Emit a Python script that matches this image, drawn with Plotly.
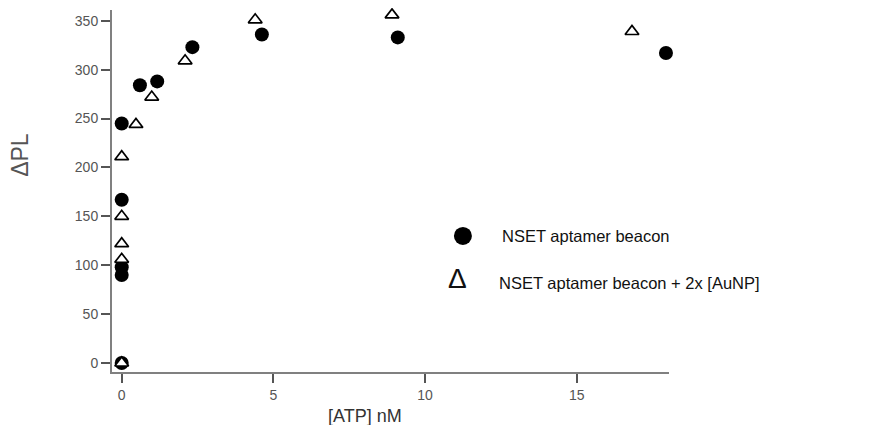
import plotly.graph_objects as go

# Data
beacon_x = [0, 0, 0, 0, 0, 0.6, 1.17, 2.33, 4.62, 9.1, 17.94]
beacon_y = [0, 90, 98, 167, 245, 284, 288, 323, 336, 333, 317]

auNP_x = [0, 0, 0, 0, 0, 0.47, 0.99, 2.09, 4.4, 8.91, 16.82]
auNP_y = [0, 106, 122, 150, 211, 244, 272, 309, 351, 356, 339]

x_ticks = [0, 5, 10, 15]
y_ticks = [0, 50, 100, 150, 200, 250, 300, 350]

legend_labels = ["NSET aptamer beacon", "NSET aptamer beacon + 2x [AuNP]"]

FONT = "Liberation Sans, Arial, sans-serif"

fig = go.Figure()
fig.add_trace(go.Scatter(
    x=beacon_x, y=beacon_y, mode="markers", name=legend_labels[0],
    marker=dict(symbol="circle", size=14, color="black", line=dict(width=0)),
    showlegend=False, cliponaxis=False,
))
fig.add_trace(go.Scatter(
    x=auNP_x, y=auNP_y, mode="markers", name=legend_labels[1],
    marker=dict(symbol="triangle-up", size=12, color="white",
                line=dict(color="black", width=1.7)),
    showlegend=False, cliponaxis=False,
))

axis_common = dict(
    showgrid=False, zeroline=False, showline=True, linecolor="#808080", linewidth=2,
    ticks="outside", ticklen=9, tickwidth=1.5, tickcolor="#555555",
    tickfont=dict(family=FONT, size=14, color="#555555"),
)

# The page adds an 8 px body margin, so the figure is 8 px smaller and margins shifted.
fig.update_layout(
    width=873, height=417,
    margin=dict(l=104, r=212, t=2, b=53),
    paper_bgcolor="white", plot_bgcolor="white",
    xaxis=dict(range=[-0.32, 18.04], tickvals=x_ticks, **axis_common),
    yaxis=dict(range=[-9.2, 361], tickvals=y_ticks, **axis_common),
    font=dict(family=FONT),
)

# Axis titles
fig.add_annotation(text="ΔPL", xref="paper", yref="paper", x=-0.192, y=0.60,
                   textangle=-90, showarrow=False,
                   font=dict(family=FONT, size=23, color="#555555"))
fig.add_annotation(text="[ATP] nM", xref="paper", yref="paper", x=0.455, y=-0.122,
                   showarrow=False, xanchor="center", yanchor="middle",
                   font=dict(family=FONT, size=18, color="#333333"))

# Custom legend
fig.add_shape(type="circle", xref="paper", yref="paper",
              xsizemode="pixel", ysizemode="pixel",
              xanchor=0.630, yanchor=0.376, x0=-9, x1=9, y0=-9, y1=9,
              fillcolor="black", line=dict(width=0))
fig.add_annotation(text=legend_labels[0], xref="paper", yref="paper",
                   x=0.6966, y=0.376, xanchor="left", yanchor="middle", showarrow=False,
                   font=dict(family=FONT, size=16.5, color="#111111"))
fig.add_annotation(text="Δ", xref="paper", yref="paper",
                   x=0.621, y=0.258, xanchor="center", yanchor="middle", showarrow=False,
                   font=dict(family=FONT, size=28, color="#111111"))
fig.add_annotation(text=legend_labels[1], xref="paper", yref="paper",
                   x=0.691, y=0.245, xanchor="left", yanchor="middle", showarrow=False,
                   font=dict(family=FONT, size=16.5, color="#111111"))

fig.write_html("out.html")
